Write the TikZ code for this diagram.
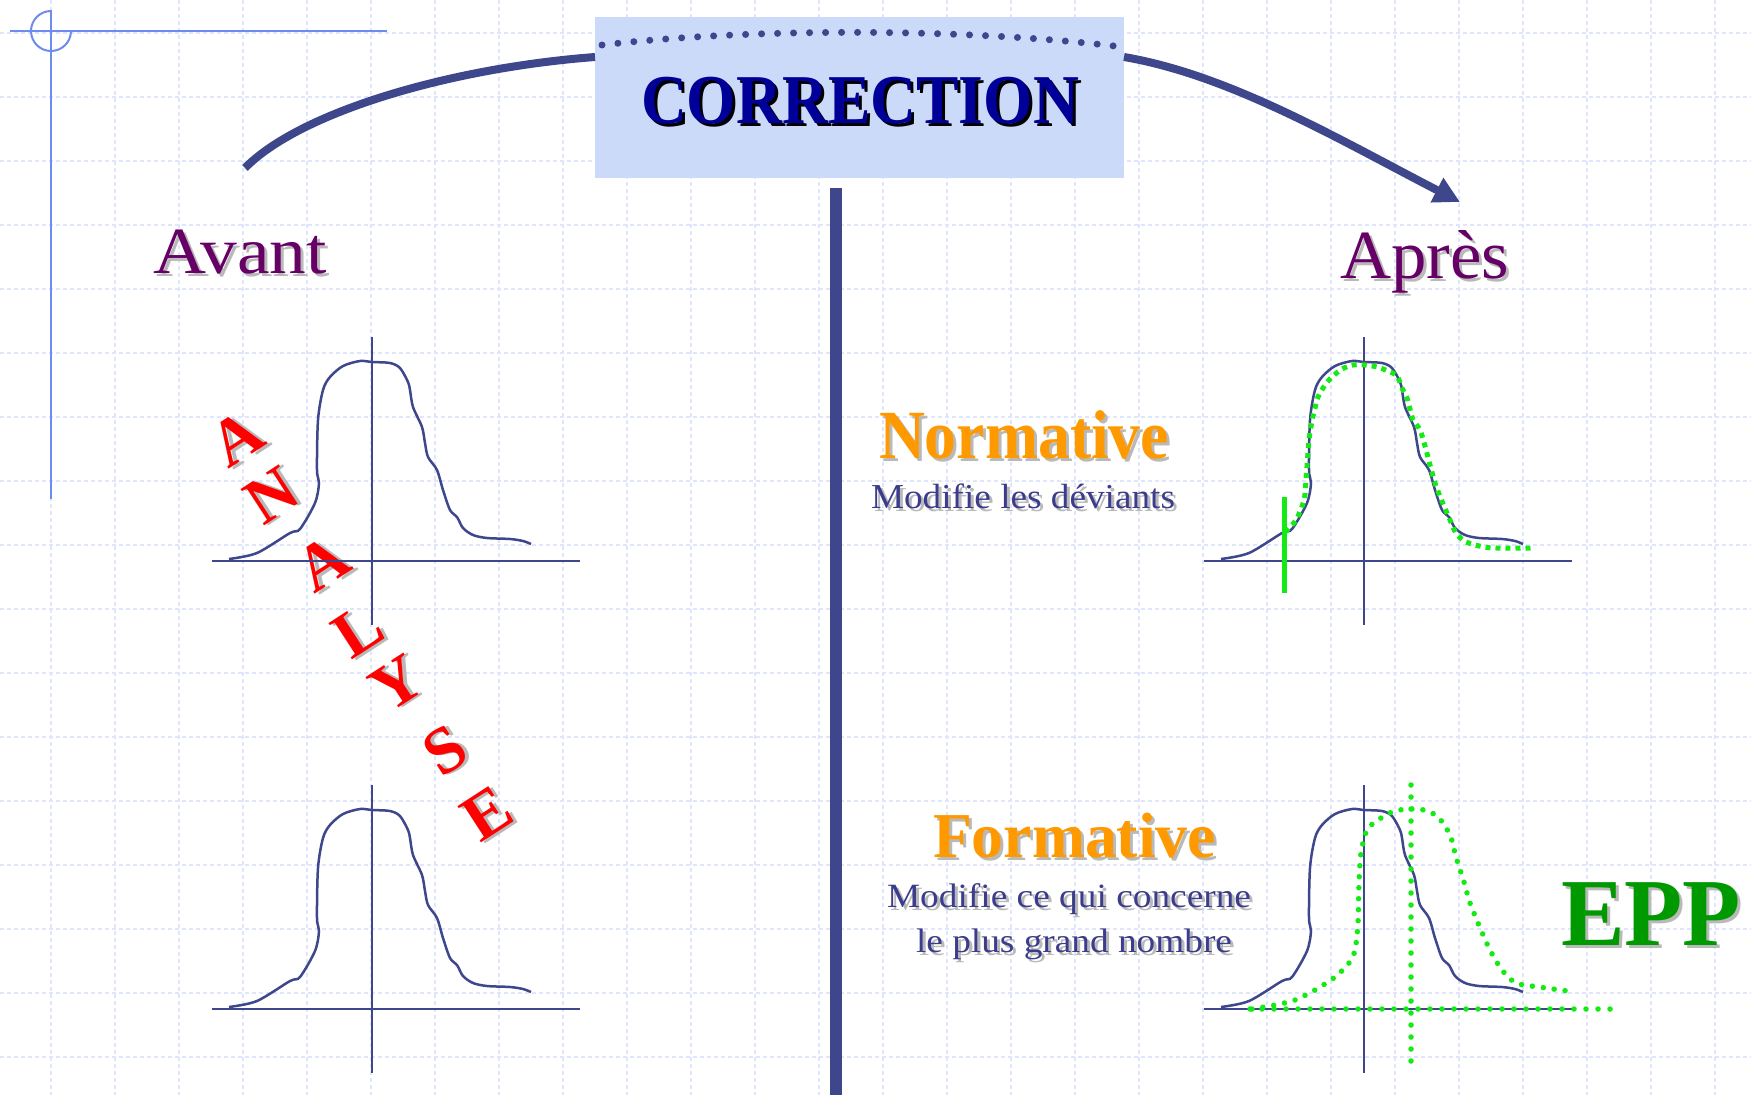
\documentclass[tikz,border=0pt]{standalone}
\usepackage{fontspec}
\setmainfont{Liberation Serif}
\usetikzlibrary{arrows.meta,calc}
\definecolor{lineblue}{RGB}{62,70,140}
\definecolor{gridblue}{RGB}{222,229,252}
\definecolor{decoblue}{RGB}{110,140,240}
\definecolor{boxblue}{RGB}{204,218,250}
\definecolor{corrblue}{RGB}{0,0,153}
\definecolor{avpurple}{RGB}{102,0,102}
\definecolor{modblue}{RGB}{60,60,140}
\definecolor{orangetxt}{RGB}{255,153,0}
\definecolor{eppgreen}{RGB}{0,153,0}
\definecolor{brightgreen}{RGB}{20,235,20}
\definecolor{shadowgray}{RGB}{185,185,185}
\definecolor{letterred}{RGB}{255,0,0}
\newcommand{\mytxt}[3]{\fontsize{#1}{#1}\selectfont\resizebox{#2pt}{\height}{#3}}
\newcommand{\shtext}[5]{%
  \node[txtbox,text=#4,xshift=3pt,yshift=-3pt] (#1-s) at #2 {#5};
  \node[txtbox,text=#3] (#1) at #2 {#5};}
\newcommand{\anlet}[3]{%
  \node[letterbox,text=shadowgray,xshift=3pt,yshift=-3pt] (#1-s) at #2 {#3};
  \node[letterbox,text=letterred] (#1) at #2 {#3};}
\tikzset{
  txtbox/.style={anchor=base west,inner sep=0pt,outer sep=0pt},
  letterbox/.style={font=\fontsize{66}{66}\selectfont\bfseries,rotate=33,inner sep=0pt,anchor=center},
  gridline/.style={gridblue,line width=1.5pt,dash pattern=on 4pt off 3pt},
  axisline/.style={lineblue,line width=2.5pt},
  bell/.pic={\path[pic actions] plot[smooth,tension=0.5] coordinates {(-143,-2) (-115,-8) (-82,-28) (-72,-32) (-57,-58) (-53,-78) (-55,-91) (-54,-141) (-49,-171) (-42,-184) (-29,-195) (-12,-200) (0,-199) (18,-198) (28,-193) (36,-179) (38,-171) (41,-154) (50,-134) (53,-118) (56,-104) (65,-91) (71,-71) (78,-51) (85,-44) (91,-33) (101,-26) (115,-23) (138,-22) (151,-20) (159,-17)};},
  axes/.pic={\draw[axisline] (-160,0) -- (208,0); \draw[axisline] (0,-224) -- (0,64);}
}
\begin{document}
\begin{tikzpicture}[x=1pt,y=-1pt]
\useasboundingbox (0,0) rectangle (1751,1095);
\fill[white] (0,0) rectangle (1751,1095);
% grid
\foreach \k in {0,...,26} \draw[gridline] ({51+64*\k},0) -- ({51+64*\k},1095);
\foreach \k in {0,...,16} \draw[gridline] (0,{33+64*\k}) -- (1751,{33+64*\k});
% corner decoration
\coordinate (hl1) at (10,31);
\coordinate (hl2) at (387,31);
\coordinate (vl1) at (51,10);
\coordinate (vl2) at (51,499);
\draw[decoblue,line width=2pt] (hl1) -- (hl2);
\draw[decoblue,line width=2pt] (vl1) -- (vl2);
\draw[decoblue,line width=2pt] (51,11) arc[start angle=-90,end angle=-360,radius=20];
% central box
\node[fill=boxblue,minimum width=529pt,minimum height=161pt,inner sep=0pt,outer sep=0pt,anchor=north west] (corr) at (595,17) {};
\coordinate (dl) at (602,45);
\coordinate (dr) at (1114,46);
\draw[lineblue,line width=7pt,dash pattern=on 0pt off 16pt,line cap=round] (dl) .. controls (750,28) and (960,28) .. (dr);
\shtext{corrtxt}{(641,123)}{corrblue}{black}{\bfseries\mytxt{70}{438}{CORRECTION}}
% arcs
\coordinate (aStart) at (245,168);
\coordinate (aEnd) at (1460,202);
\draw[lineblue,line width=8pt] (aStart) .. controls (300,112) and (450,68) .. ($(corr.north west)+(0,40)$);
\draw[lineblue,line width=8pt,-{Triangle[length=26pt,width=26pt]}] ($(corr.north east)+(0,40)$) .. controls (1230,75) and (1340,140) .. (aEnd);
% vertical divider
\coordinate (vtop) at (836,188);
\coordinate (vbot) at (836,1095);
\draw[lineblue,line width=12pt] (vtop) -- (vbot);
% titles
\shtext{avant}{(153,273)}{avpurple}{shadowgray}{\mytxt{66}{174}{Avant}}
\shtext{apres}{(1340,278)}{avpurple}{shadowgray}{\mytxt{69}{169}{Après}}
\shtext{norm}{(879,458)}{orangetxt}{shadowgray}{\bfseries\mytxt{69}{290}{Normative}}
\shtext{normsub}{(871,508)}{modblue}{shadowgray}{\mytxt{35}{304}{Modifie les déviants}}
\shtext{form}{(933,857)}{orangetxt}{shadowgray}{\bfseries\mytxt{64}{283}{Formative}}
\shtext{formsubA}{(887,907)}{modblue}{shadowgray}{\mytxt{34}{364}{Modifie ce qui concerne}}
\shtext{formsubB}{(916,952)}{modblue}{shadowgray}{\mytxt{34}{316}{le plus grand nombre}}
\shtext{epp}{(1561,945)}{eppgreen}{shadowgray}{\bfseries\mytxt{96}{180}{EPP}}
% ANALYSE
\anlet{l1}{(237,438)}{A}
\anlet{l2}{(272,495)}{N}
\anlet{l3}{(323,563)}{A}
\anlet{l4}{(358,630)}{L}
\anlet{l5}{(397,683)}{Y}
\anlet{l6}{(445,750)}{S}
\anlet{l7}{(487,813)}{E}
% bell curves
\pic (axUL) at (372,561) {axes};
\pic[draw=lineblue,line width=2.5pt] (bUL) at (372,561) {bell};
\pic (axLL) at (372,1009) {axes};
\pic[draw=lineblue,line width=2.5pt] (bLL) at (372,1009) {bell};
\pic (axUR) at (1364,561) {axes};
\pic[draw=lineblue,line width=2.5pt] (bUR) at (1364,561) {bell};
\pic (axLR) at (1364,1009) {axes};
\pic[draw=lineblue,line width=2.5pt] (bLR) at (1364,1009) {bell};
% normative green
\coordinate (gb1) at (1284,497);
\coordinate (gb2) at (1284,593);
\draw[brightgreen,line width=5pt] (gb1) -- (gb2);
\begin{scope}[shift={(1364,561)}]
\draw[brightgreen,line width=5pt,dash pattern=on 5pt off 5pt] plot[smooth,tension=0.5] coordinates {(-79,-29) (-68,-41) (-60,-61) (-58,-81) (-55,-121) (-52,-140) (-49,-153) (-46,-164) (-39,-176) (-32,-184) (-22,-192) (-11,-196) (1,-196) (13,-194) (24,-190) (33,-185) (38,-173) (43,-163) (46,-152) (49,-141) (56,-131) (61,-115) (66,-96) (72,-75) (80,-55) (86,-41) (92,-28) (102,-19) (120,-14) (133,-13) (169,-13)};
\end{scope}
% formative green
\coordinate (gh1) at (1250,1009);
\coordinate (gh2) at (1614,1009);
\coordinate (gv1) at (1411,785);
\coordinate (gv2) at (1411,1063);
\draw[brightgreen,line width=5.5pt,dash pattern=on 0pt off 12pt,line cap=round] (gh1) -- (gh2);
\draw[brightgreen,line width=5.5pt,dash pattern=on 0pt off 12pt,line cap=round] (gv1) -- (gv2);
\draw[brightgreen,line width=5.5pt,dash pattern=on 0pt off 11pt,line cap=round] plot[smooth,tension=0.5] coordinates {(1252,1009) (1275,1005) (1295,1000) (1315,990) (1335,977) (1349,963) (1355,950) (1358,923) (1359,883) (1361,853) (1367,830) (1378,820) (1392,812) (1407,809) (1424,810) (1438,817) (1450,835) (1456,857) (1464,882) (1470,903) (1481,930) (1490,950) (1502,970) (1516,983) (1539,987) (1568,991)};
\end{tikzpicture}
\end{document}
